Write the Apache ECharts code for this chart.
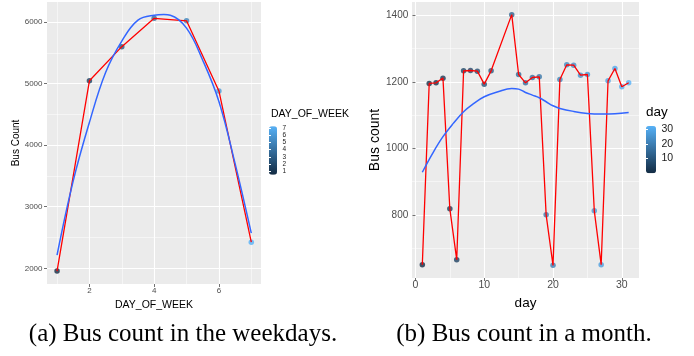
<!DOCTYPE html>
<html>
<head>
<meta charset="utf-8">
<script src="https://cdn.jsdelivr.net/npm/echarts@6/dist/echarts.min.js"></script>
<style>
html,body{margin:0;padding:0;background:#fff;}
#chart{width:694px;height:356px;}
</style>
</head>
<body>
<div id="chart"></div>
<script>
// ---- Data: (a) bus count per day of week ----
const weekDays = [1, 2, 3, 4, 5, 6, 7];
const weekCounts = [1955, 5045, 5600, 6060, 6020, 4880, 2425];
const weekSmoothX = [1, 1.5, 2, 2.5, 3, 3.5, 4, 4.3, 4.5, 5, 5.5, 6, 6.5, 7];
const weekSmoothY = [2215, 3420, 4370, 5180, 5690, 6030, 6110, 6120, 6110, 5900, 5380, 4710, 3700, 2570];
const weekXTicks = [2, 4, 6];
const weekYTicks = [2000, 3000, 4000, 5000, 6000];
const weekLegendTicks = [1, 2, 3, 4, 5, 6, 7];

// ---- Data: (b) bus count per day of month ----
const monthDays = [1, 2, 3, 4, 5, 6, 7, 8, 9, 10, 11, 14, 15, 16, 17, 18, 19, 20, 21, 22, 23, 24, 25, 26, 27, 28, 29, 30, 31];
const monthCounts = [650, 1195, 1197, 1211, 818, 665, 1233, 1234, 1232, 1193, 1233, 1402, 1222, 1197, 1213, 1215, 800, 648, 1207, 1251, 1250, 1220, 1222, 812, 650, 1203, 1240, 1185, 1197];
const monthSmoothX = [1, 2.5, 4, 5.5, 7, 8.5, 10, 12, 14, 15, 16, 17, 18, 19, 20, 21, 23, 25, 27, 29, 31];
const monthSmoothY = [928, 985, 1035, 1075, 1110, 1135, 1155, 1170, 1180, 1178, 1168, 1160, 1152, 1140, 1128, 1120, 1111, 1105, 1103, 1104, 1108];
const monthXTicks = [0, 10, 20, 30];
const monthYTicks = [800, 1000, 1200, 1400];
const monthLegendTicks = [10, 20, 30];

const FONT = 'Liberation Sans, Arial, sans-serif';
const pairs = (xs, ys) => xs.map((x, i) => [x, ys[i]]);
const plain = v => String(v);

function mainAxis(gi, min, max, split, ticks, labelSize, margin, name, nameSize, nameGap) {
  return {
    type: 'value', gridIndex: gi, min: min, max: max, splitNumber: split,
    axisLine: { show: false },
    axisTick: { show: true, length: 3, customValues: ticks, lineStyle: { color: '#333333', width: 0.7 } },
    axisLabel: { fontSize: labelSize, color: '#4D4D4D', margin: margin, customValues: ticks, fontFamily: FONT, formatter: plain },
    splitLine: { show: true, lineStyle: { color: '#FFFFFF', width: 1.1 } },
    minorTick: { show: false, splitNumber: 2 },
    minorSplitLine: { show: true, lineStyle: { color: '#FFFFFF', width: 0.5 } },
    name: name, nameLocation: 'middle', nameGap: nameGap,
    nameTextStyle: { fontSize: nameSize, color: '#000', fontFamily: FONT }
  };
}

function legendAxis(gi, min, max, split, ticks, pos, showLabel, labelSize, margin) {
  return {
    type: 'value', gridIndex: gi, min: min, max: max, splitNumber: split, position: pos, z: 10,
    axisLine: { show: false },
    axisTick: { show: true, inside: true, length: 2, customValues: ticks, lineStyle: { color: '#FFFFFF', width: 1 } },
    axisLabel: { show: showLabel, fontSize: labelSize, color: '#1A1A1A', margin: margin, customValues: ticks, fontFamily: FONT, formatter: plain },
    splitLine: { show: false }
  };
}

const chart = echarts.init(document.getElementById('chart'), null, { renderer: 'canvas' });
chart.setOption({
  animation: false,
  backgroundColor: '#FFFFFF',
  textStyle: { fontFamily: FONT },
  grid: [
    { left: 47, top: 2, width: 214, height: 282, show: true, backgroundColor: '#EBEBEB', borderWidth: 0 },
    { left: 412, top: 2, width: 227, height: 276, show: true, backgroundColor: '#EBEBEB', borderWidth: 0 },
    { left: 269, top: 126.3, width: 8, height: 48.4, show: false },
    { left: 646, top: 126, width: 10, height: 47.3, show: false }
  ],
  xAxis: [
    mainAxis(0, 0.69, 7.3, 3, weekXTicks, 8, 3, 'DAY_OF_WEEK', 10.5, 11),
    mainAxis(1, -0.5, 32.5, 3, monthXTicks, 10.5, 2, 'day', 13.5, 14),
    { type: 'value', gridIndex: 2, show: false, min: 0, max: 1 },
    { type: 'value', gridIndex: 3, show: false, min: 0, max: 1 }
  ],
  yAxis: [
    mainAxis(0, 1745, 6325, 5, weekYTicks, 8, 4.5, 'Bus Count', 10, 25),
    mainAxis(1, 610, 1440, 4, monthYTicks, 10, 3.7, 'Bus count', 14, 27),
    legendAxis(2, 0.53, 7.235, 7, weekLegendTicks, 'right', true, 6.5, 5.5),
    legendAxis(2, 0.53, 7.235, 7, weekLegendTicks, 'left', false, 6, 2),
    legendAxis(3, -0.3, 32.3, 3, monthLegendTicks, 'right', true, 10.5, 5.5),
    legendAxis(3, -0.3, 32.3, 3, monthLegendTicks, 'left', false, 10, 2)
  ],
  visualMap: [
    { type: 'continuous', seriesIndex: 0, dimension: 0, min: 1, max: 7,
      inRange: { color: ['#132B43', '#56B1F7'] }, left: 269, top: 126.3,
      itemWidth: 8, itemHeight: 48.4, padding: 0, calculable: false, hoverLink: false, text: null, showLabel: false },
    { type: 'continuous', seriesIndex: 3, dimension: 0, min: 1, max: 31,
      inRange: { color: ['#132B43', '#56B1F7'] }, left: 646, top: 126,
      itemWidth: 10, itemHeight: 47.3, padding: 0, calculable: false, hoverLink: false, text: null, showLabel: false }
  ],
  series: [
    { type: 'scatter', xAxisIndex: 0, yAxisIndex: 0, data: pairs(weekDays, weekCounts),
      symbolSize: 5.5, itemStyle: { opacity: 0.8 }, z: 2 },
    { type: 'line', xAxisIndex: 0, yAxisIndex: 0, data: pairs(weekDays, weekCounts),
      showSymbol: false, lineStyle: { color: '#FF0000', width: 1.3 }, itemStyle: { color: '#FF0000' }, z: 3 },
    { type: 'line', xAxisIndex: 0, yAxisIndex: 0, data: pairs(weekSmoothX, weekSmoothY), smooth: 0.4,
      showSymbol: false, lineStyle: { color: '#3366FF', width: 1.5 }, itemStyle: { color: '#3366FF' }, z: 4 },
    { type: 'scatter', xAxisIndex: 1, yAxisIndex: 1, data: pairs(monthDays, monthCounts),
      symbolSize: 5.5, itemStyle: { opacity: 0.8 }, z: 2 },
    { type: 'line', xAxisIndex: 1, yAxisIndex: 1, data: pairs(monthDays, monthCounts),
      showSymbol: false, lineStyle: { color: '#FF0000', width: 1.3 }, itemStyle: { color: '#FF0000' }, z: 3 },
    { type: 'line', xAxisIndex: 1, yAxisIndex: 1, data: pairs(monthSmoothX, monthSmoothY), smooth: 0.4,
      showSymbol: false, lineStyle: { color: '#3366FF', width: 1.5 }, itemStyle: { color: '#3366FF' }, z: 4 }
  ],
  graphic: [
    { type: 'text', left: 271, top: 109, style: { text: 'DAY_OF_WEEK', font: '10.5px ' + FONT, fill: '#000' } },
    { type: 'text', left: 646, top: 105, style: { text: 'day', font: '13.5px ' + FONT, fill: '#000' } },
    { type: 'text', x: 183, y: 334, style: { text: '(a) Bus count in the weekdays.', font: '25px Liberation Serif, Times New Roman, serif', fill: '#000', align: 'center', verticalAlign: 'middle' } },
    { type: 'text', x: 524, y: 334, style: { text: '(b) Bus count in a month.', font: '25px Liberation Serif, Times New Roman, serif', fill: '#000', align: 'center', verticalAlign: 'middle' } }
  ]
});
</script>
</body>
</html>
